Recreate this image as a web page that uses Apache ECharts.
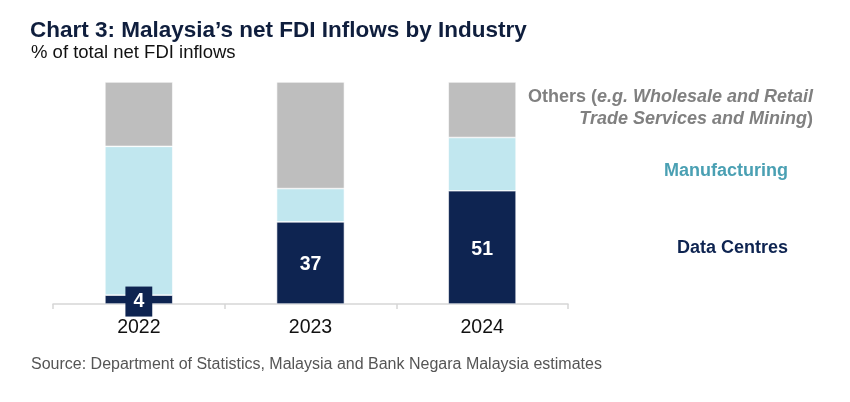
<!DOCTYPE html>
<html>
<head>
<meta charset="utf-8">
<script src="https://cdn.jsdelivr.net/npm/echarts@6/dist/echarts.min.js"></script>
<style>
  html, body { margin: 0; padding: 0; background: #fff; }
  #chart { width: 850px; height: 402px; }
</style>
</head>
<body>
<div id="chart"></div>
<script>
// 数据
const years = ['2022', '2023', '2024']
const dataCentres = [4, 37, 51]
const manufacturing = [67, 15, 24]
const others = [29, 48, 25]

const navy = '#0e2451'
const lightBlue = '#c1e7ef'
const grey = '#bebebe'
const font = '"Liberation Sans", Arial, sans-serif'

const chart = echarts.init(document.getElementById('chart'))

const dcData = dataCentres.map((v) => {
  // 数值太小时，标签加深色底框
  if (v < 10) {
    return {
      value: v,
      label: { backgroundColor: navy, padding: [6, 8, 4, 8] }
    }
  }
  return v
})

const legendText = (text, right, top, fill, extra) => ({
  type: 'text',
  right: right,
  top: top,
  style: Object.assign({
    text: text,
    fontSize: 18, fontWeight: 'bold', fill: fill, fontFamily: font
  }, extra || {})
})

const othersRich = {
  n: { fontSize: 18, fontWeight: 'bold', fill: '#808080', fontFamily: font },
  i: { fontSize: 18, fontWeight: 'bold', fontStyle: 'italic', fill: '#808080', fontFamily: font }
}

const option = {
  animation: false,
  textStyle: { fontFamily: font },
  title: [
    {
      text: 'Chart 3: Malaysia\u2019s net FDI Inflows by Industry',
      left: 25, top: 14,
      textStyle: { fontSize: 22.5, fontWeight: 'bold', color: '#0f1e3d', fontFamily: font }
    },
    {
      text: '% of total net FDI inflows',
      left: 26, top: 38,
      textStyle: { fontSize: 18.5, fontWeight: 'normal', color: '#111', fontFamily: font }
    },
    {
      text: 'Source: Department of Statistics, Malaysia and Bank Negara Malaysia estimates',
      left: 26, top: 352,
      textStyle: { fontSize: 16, fontWeight: 'normal', color: '#555', fontFamily: font }
    }
  ],
  grid: { left: 53, right: 282, top: 82, bottom: 98 },
  xAxis: {
    type: 'category',
    data: years,
    axisLine: { lineStyle: { color: '#d6d6d6', width: 1.5 } },
    axisTick: { show: true, length: 5, lineStyle: { color: '#d6d6d6', width: 1.5 } },
    axisLabel: { fontSize: 19.5, color: '#111', margin: 14, fontFamily: font }
  },
  yAxis: {
    type: 'value',
    min: 0, max: 100,
    show: false
  },
  series: [
    {
      name: 'Data Centres',
      type: 'bar',
      stack: 'total',
      barWidth: '39.5%',
      data: dcData,
      itemStyle: { color: navy, borderColor: '#fff', borderWidth: 0.6 },
      label: {
        show: true,
        position: 'inside',
        color: '#fff',
        fontSize: 19.5,
        fontWeight: 'bold',
        fontFamily: font,
        offset: [0, 2]
      }
    },
    {
      name: 'Manufacturing',
      type: 'bar',
      stack: 'total',
      data: manufacturing,
      itemStyle: { color: lightBlue, borderColor: '#fff', borderWidth: 0.6 }
    },
    {
      name: 'Others',
      type: 'bar',
      stack: 'total',
      data: others,
      itemStyle: { color: grey, borderColor: '#fff', borderWidth: 0.6 }
    }
  ],
  graphic: [
    legendText('{n|Others (}{i|e.g. Wholesale and Retail}', 37, 88, '#808080', { rich: othersRich }),
    legendText('{i|Trade Services and Mining}{n|)}', 37, 110, '#808080', { rich: othersRich }),
    legendText('Manufacturing', 62, 162, '#4aa0b3'),
    legendText('Data Centres', 62, 239, navy)
  ]
}

chart.setOption(option)
</script>
</body>
</html>
